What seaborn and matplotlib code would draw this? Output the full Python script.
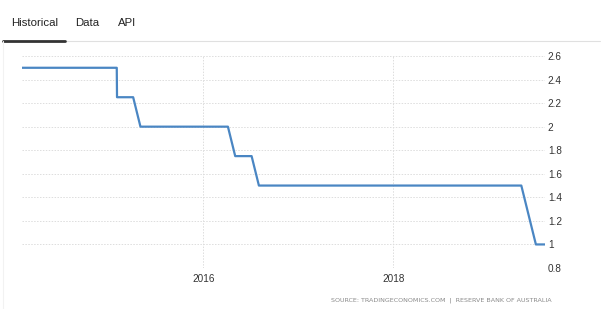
import matplotlib
matplotlib.use("Agg")
import matplotlib.pyplot as plt
from matplotlib.lines import Line2D
from matplotlib.ticker import FuncFormatter
import seaborn as sns
import pandas as pd

# ---- data ----
dates = ["2014-02-04", "2015-02-03", "2015-02-04", "2015-04-07", "2015-05-05",
         "2016-04-05", "2016-05-03", "2016-07-05", "2016-08-02", "2019-05-07",
         "2019-07-02", "2019-08-06"]
rates = [2.5, 2.5, 2.25, 2.25, 2.0, 2.0, 1.75, 1.75, 1.5, 1.5, 1.0, 1.0]
y_ticks = [0.8, 1.0, 1.2, 1.4, 1.6, 1.8, 2.0, 2.2, 2.4, 2.6]
x_tick_years = ["2016", "2018"]
tabs = ["Historical", "Data", "API"]
source_text = "SOURCE: TRADINGECONOMICS.COM  |  RESERVE BANK OF AUSTRALIA"

df = pd.DataFrame({"date": pd.to_datetime(dates), "rate": rates})

sns.set_style("white")
plt.rcParams["font.family"] = ["Liberation Sans", "DejaVu Sans"]

W, H = 603, 309
fig = plt.figure(figsize=(W / 100, H / 100), dpi=100)
fig.patch.set_facecolor("white")

left, right, top, bottom = 22, 545, 56, 268
ax = fig.add_axes([left / W, 1 - bottom / H, (right - left) / W, (bottom - top) / H])

sns.lineplot(data=df, x="date", y="rate", ax=ax, color="#4a86c3", linewidth=1.6)

ax.set_xlim(df["date"].iloc[0], df["date"].iloc[-1])
ax.set_ylim(y_ticks[0], y_ticks[-1])
ax.set_xlabel("")
ax.set_ylabel("")

ax.set_yticks(y_ticks)
ax.yaxis.set_major_formatter(FuncFormatter(lambda v, p: f"{v:g}"))
ax.yaxis.tick_right()
ax.set_xticks([pd.Timestamp(f"{y}-01-01") for y in x_tick_years])
ax.set_xticklabels(x_tick_years)

ax.tick_params(axis="y", length=0, pad=2.0, labelsize=7.2, labelcolor="#333333")
ax.tick_params(axis="x", length=0, pad=4, labelsize=7.2, labelcolor="#333333")

ax.grid(True, color="#dddddd", linestyle=(0, (1.5, 1.5)), linewidth=0.7)
ax.set_axisbelow(True)
for s in ax.spines.values():
    s.set_visible(False)

# ---- tab bar ----
def fx(x):
    return x / W

def fy(y):
    return 1 - y / H

fig.add_artist(Line2D([fx(3), fx(600)], [fy(40.5), fy(40.5)], color="#e0e0e0", linewidth=0.8))
fig.add_artist(Line2D([fx(3), fx(65)], [fy(40.5), fy(40.5)], color="#333333", linewidth=2.0))
fig.add_artist(Line2D([fx(3), fx(3)], [fy(41), fy(309)], color="#f2f2f2", linewidth=0.8))

tab_x = [11, 75, 118]
for t, x in zip(tabs, tab_x):
    fig.text(fx(x), fy(22.5), t, fontsize=8.2, color="#222222", va="center", ha="left")

fig.text(fx(552), fy(300), source_text, fontsize=4.6, color="#8a8a8a", ha="right", va="center",
         family=["DejaVu Sans"])

fig.savefig("out.png", dpi=100, facecolor="white")
